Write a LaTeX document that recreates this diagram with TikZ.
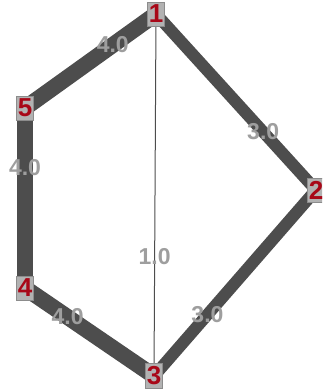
\documentclass[tikz,border=0pt]{standalone}
\usepackage{fontspec}
\setmainfont{Liberation Sans}
\usepackage{tikz}
\definecolor{graphedge}{RGB}{77,77,77}
\definecolor{graphlabel}{RGB}{158,158,158}
\definecolor{graphred}{RGB}{168,8,24}
\definecolor{graphbox}{RGB}{178,178,178}
\definecolor{graphboxline}{RGB}{140,140,140}
\tikzset{
  vertex/.style={draw=graphboxline, fill=graphbox, text=graphred,
    font=\fontsize{26}{26}\selectfont\bfseries, inner xsep=1.5pt,
    inner ysep=3pt, line width=0.8pt},
  weightlabel/.style={text=graphlabel, font=\fontsize{23}{23}\selectfont\bfseries,
    inner sep=0pt}
}

\begin{document}
\begin{tikzpicture}[x=1pt, y=-1pt]

  \useasboundingbox (0,0) rectangle (322,391);
  \clip (0,0) rectangle (322,391);

  % === VERTICES (positions only) ===
  \coordinate (p1) at (156,14);
  \coordinate (p2) at (316,190);
  \coordinate (p3) at (154,376);
  \coordinate (p4) at (25,288);
  \coordinate (p5) at (25,108);

  % === WEIGHTED EDGES ===
  \foreach \a/\b/\w/\lw in {
    5/1/4.0/16,
    1/2/3.0/12,
    4/5/4.0/16,
    1/3/1.0/1,
    2/3/3.0/12,
    3/4/4.0/16} {
    \draw[graphedge, line width=\lw pt] (p\a) -- (p\b);
  }

  % Edge weights
  \foreach \a/\b/\w in {
    5/1/4.0, 1/2/3.0, 4/5/4.0, 1/3/1.0, 2/3/3.0, 3/4/4.0} {
    \path (p\a) -- (p\b) node[weightlabel, pos=0.67] (w\a\b) {\w};
  }

  % === VERTEX BOXES ===
  \foreach \n in {1,...,5} {
    \node[vertex] (v\n) at (p\n) {\n};
  }

\end{tikzpicture}
\end{document}
